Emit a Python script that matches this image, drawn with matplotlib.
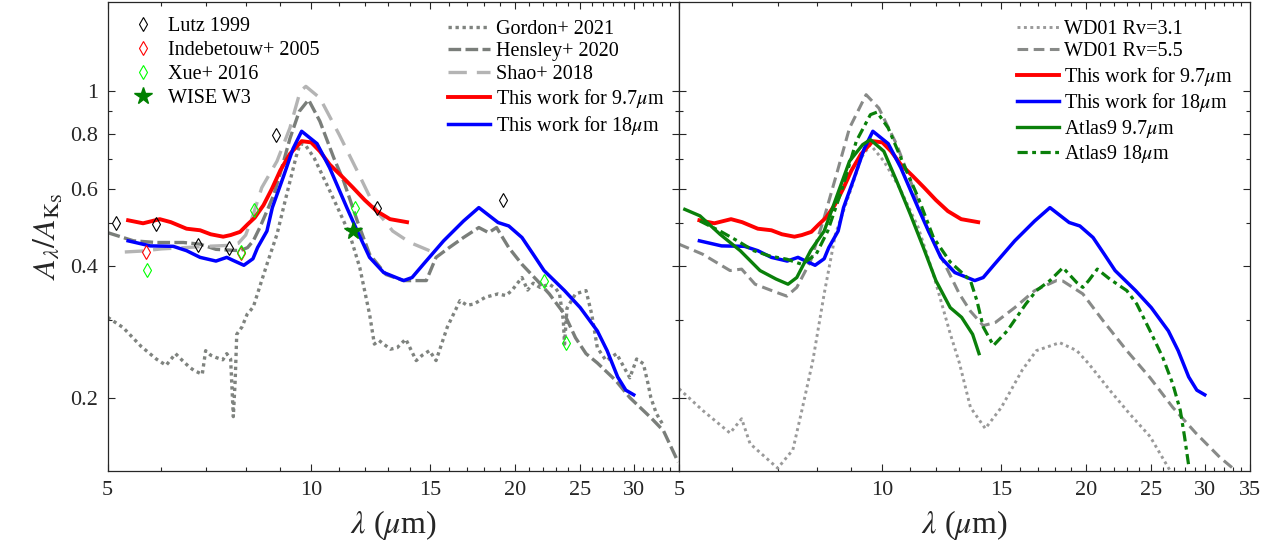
import matplotlib.pyplot as plt
from matplotlib.ticker import FixedLocator, FixedFormatter, NullFormatter

plt.rcParams['font.family'] = ['Liberation Serif', 'DejaVu Serif']
plt.rcParams['mathtext.fontset'] = 'stix'

# ---- data ----
# This work, 9.7 um feature
red_lam = [5.36, 5.64, 5.97, 6.2, 6.54, 6.85, 7.1, 7.41, 7.6, 7.85, 8.05, 8.25, 8.5, 8.75,
           9.0, 9.3, 9.68, 10.0, 10.3, 10.65, 11.1, 11.53, 12.0, 12.5, 13.08, 13.86]
red_A = [0.508, 0.500, 0.511, 0.503, 0.486, 0.482, 0.472, 0.466, 0.470, 0.478, 0.497, 0.515,
         0.55, 0.60, 0.66, 0.72, 0.770, 0.765, 0.73, 0.681, 0.64, 0.603, 0.565, 0.533, 0.511, 0.503]

# This work, 18 um feature
blue_lam = [5.36, 5.78, 6.25, 6.54, 6.85, 7.23, 7.5, 7.65, 7.95, 8.2, 8.33, 8.6, 8.76, 9.1,
            9.4, 9.68, 10.2, 10.65, 11.29, 11.7, 12.2, 12.8, 13.7, 14.1, 14.65, 15.7, 16.8,
            17.7, 18.5, 18.9, 19.6, 20.5, 21.3, 22.1, 23.7, 25.0, 26.5, 27.4, 28.4, 29.2, 30.0]
blue_A = [0.456, 0.444, 0.443, 0.433, 0.418, 0.410, 0.418, 0.412, 0.401, 0.415, 0.44, 0.48,
          0.543, 0.64, 0.74, 0.811, 0.76, 0.669, 0.543, 0.48, 0.418, 0.386, 0.37, 0.376, 0.403,
          0.456, 0.506, 0.543, 0.515, 0.502, 0.493, 0.464, 0.425, 0.39, 0.351, 0.321, 0.284,
          0.256, 0.223, 0.208, 0.203]

# Gordon+ 2021
gor_lam = [5.0, 5.27, 5.6, 5.9, 6.1, 6.3, 6.45, 6.6, 6.7, 6.9, 6.98, 7.1, 7.23, 7.4, 7.5, 7.6,
           7.67, 7.72, 7.76, 7.9, 8.04, 8.21, 8.4, 8.6, 8.9, 9.2, 9.5, 9.63, 9.8, 10.1, 10.6,
           11.0, 11.4, 11.8, 12.0, 12.2, 12.4, 12.6, 12.8, 13.1, 13.4, 13.8, 14.3, 14.6, 14.96,
           15.3, 15.9, 16.6, 17.0, 17.4, 18.1, 18.9, 19.4, 19.8, 20.5, 20.9, 21.3, 21.8, 22.5,
           23.0, 23.3, 23.6, 23.7, 23.9, 24.6, 25.5, 26.0, 26.5, 27.3, 28.3, 29.0, 29.6, 30.3,
           31.0, 31.5, 31.8, 32.4, 33.1]
gor_A = [0.305, 0.289, 0.262, 0.245, 0.237, 0.252, 0.243, 0.235, 0.231, 0.226, 0.256, 0.25,
         0.247, 0.244, 0.252, 0.245, 0.181, 0.22, 0.279, 0.29, 0.31, 0.322, 0.36, 0.403, 0.472,
         0.582, 0.71, 0.76, 0.755, 0.705, 0.603, 0.533, 0.472, 0.396, 0.35, 0.31, 0.265, 0.27,
         0.265, 0.258, 0.26, 0.272, 0.243, 0.25, 0.256, 0.243, 0.29, 0.333, 0.325, 0.327, 0.339,
         0.345, 0.342, 0.351, 0.376, 0.352, 0.365, 0.357, 0.363, 0.355, 0.345, 0.3, 0.265, 0.32,
         0.345, 0.351, 0.31, 0.26, 0.243, 0.252, 0.235, 0.222, 0.245, 0.239, 0.215, 0.2, 0.184,
         0.174]

# Hensley+ 2020
hen_lam = [5.0, 5.46, 5.9, 6.47, 6.85, 7.23, 7.85, 8.05, 8.21, 8.4, 8.6, 8.8, 9.0, 9.3, 9.6,
           9.91, 10.3, 10.8, 11.17, 11.7, 12.2, 12.9, 13.7, 14.8, 15.3, 16.0, 16.8, 17.7, 18.3,
           18.8, 19.6, 20.5, 21.6, 22.5, 23.7, 24.6, 25.5, 26.5, 28.2, 29.6, 31.8, 33.2, 34.9]
hen_A = [0.476, 0.456, 0.452, 0.452, 0.448, 0.436, 0.433, 0.44, 0.456, 0.49, 0.533, 0.58, 0.65,
         0.78, 0.9, 0.957, 0.855, 0.705, 0.624, 0.506, 0.425, 0.382, 0.37, 0.37, 0.418, 0.44,
         0.464, 0.489, 0.476, 0.489, 0.44, 0.403, 0.37, 0.345, 0.31, 0.274, 0.252, 0.24, 0.219,
         0.2, 0.18, 0.168, 0.1425]

# Shao+ 2018
shao_lam = [5.3, 5.6, 6.0, 6.5, 7.0, 7.5, 7.8, 8.0, 8.21, 8.45, 8.9, 9.3, 9.63, 9.82, 10.3,
            11.0, 11.7, 12.5, 13.2, 14.0, 14.96]
shao_A = [0.43, 0.432, 0.437, 0.44, 0.443, 0.445, 0.45, 0.47, 0.524, 0.603, 0.693, 0.825, 1.0,
          1.027, 0.966, 0.797, 0.658, 0.533, 0.48, 0.452, 0.433]

# observed points
lutz_lam = [5.15, 5.89, 6.80, 7.55, 8.87, 12.5, 19.2]
lutz_A = [0.50, 0.499, 0.446, 0.44, 0.794, 0.543, 0.564]
inde_lam = [5.70, 7.88]
inde_A = [0.429, 0.427]
xue_lam = [5.71, 7.88, 8.24, 11.6, 22.1, 23.8]
xue_A = [0.392, 0.43, 0.536, 0.543, 0.37, 0.267]
wise_lam = [11.53]
wise_A = [0.48]

# WD01 models
wd31_lam = [5.0, 5.42, 5.95, 6.19, 6.37, 7.0, 7.37, 7.6, 7.89, 8.2, 8.52, 9.0, 9.3, 9.6, 10.05,
            10.6, 11.3, 11.9, 12.6, 13.0, 13.5, 14.2, 15.0, 16.1, 16.9, 18.3, 19.4, 20.2, 21.7,
            23.2, 24.9, 26.6]
wd31_A = [0.2096, 0.187, 0.166, 0.179, 0.157, 0.138, 0.152, 0.187, 0.243, 0.345, 0.472, 0.603,
          0.705, 0.756, 0.693, 0.603, 0.489, 0.382, 0.28, 0.24, 0.19, 0.17, 0.19, 0.231, 0.256,
          0.267, 0.256, 0.239, 0.208, 0.184, 0.163, 0.137]
wd55_lam = [5.0, 5.42, 5.95, 6.19, 6.48, 6.96, 7.22, 7.47, 7.83, 8.2, 8.58, 8.94, 9.46, 9.88,
            10.5, 11.1, 11.7, 12.4, 13.0, 13.5, 14.1, 14.7, 15.7, 16.8, 18.1, 18.5, 19.8, 21.2,
            23.0, 24.9, 26.9, 29.1, 31.6, 33.2]
wd55_A = [0.448, 0.425, 0.39, 0.393, 0.363, 0.348, 0.341, 0.357, 0.41, 0.515, 0.658, 0.825,
          0.983, 0.916, 0.756, 0.603, 0.48, 0.4, 0.345, 0.315, 0.292, 0.297, 0.321, 0.351, 0.37,
          0.369, 0.345, 0.3, 0.256, 0.222, 0.19, 0.166, 0.146, 0.137]

# Atlas9 models
at97_lam = [5.1, 5.37, 5.75, 6.16, 6.59, 6.96, 7.25, 7.47, 7.83, 8.2, 8.58, 8.94, 9.35, 9.6,
            10.05, 10.5, 11.0, 11.5, 12.0, 12.6, 13.1, 13.6, 13.9]
at97_A = [0.538, 0.52, 0.472, 0.433, 0.39, 0.373, 0.363, 0.376, 0.433, 0.48, 0.582, 0.693,
          0.756, 0.776, 0.73, 0.624, 0.524, 0.44, 0.37, 0.321, 0.305, 0.279, 0.252]
at18_lam = [5.37, 5.75, 6.1, 6.45, 6.81, 7.22, 7.6, 7.98, 8.3, 8.73, 9.15, 9.6, 9.82, 10.2,
            10.7, 11.3, 11.9, 12.6, 13.2, 13.5, 13.8, 14.1, 14.6, 15.3, 16.3, 16.9, 17.7, 18.5,
            19.4, 19.8, 20.2, 20.8, 21.7, 23.0, 23.8, 24.9, 26.0, 26.9, 27.6, 28.0, 28.4]
at18_A = [0.506, 0.48, 0.456, 0.433, 0.421, 0.414, 0.403, 0.425, 0.48, 0.603, 0.77, 0.885,
          0.897, 0.825, 0.693, 0.572, 0.464, 0.408, 0.382, 0.37, 0.333, 0.29, 0.263, 0.284,
          0.327, 0.351, 0.37, 0.396, 0.366, 0.357, 0.37, 0.393, 0.373, 0.351, 0.327, 0.284,
          0.247, 0.215, 0.187, 0.163, 0.14]

xticks = [5, 10, 15, 20, 25, 30, 35]
yticks = [0.2, 0.4, 0.6, 0.8, 1]
yminor = [0.3, 0.5, 0.7, 0.9]

# ---- figure ----
W, H = 1281, 550
fig = plt.figure(figsize=(W / 100, H / 100), dpi=100)
ax1 = fig.add_axes([107.7 / W, 79 / H, 571.3 / W, 469 / H])
ax2 = fig.add_axes([679 / W, 79 / H, 571 / W, 469 / H])


def style(ax, left_labels, xlabels):
    ax.set_xscale('log')
    ax.set_yscale('log')
    ax.set_xlim(5, 35)
    ax.set_ylim(0.136, 1.6)
    ax.xaxis.set_major_locator(FixedLocator(xticks))
    ax.xaxis.set_major_formatter(FixedFormatter(xlabels))
    ax.xaxis.set_minor_locator(FixedLocator([v for v in range(6, 35) if v % 5]))
    ax.xaxis.set_minor_formatter(NullFormatter())
    ax.yaxis.set_major_locator(FixedLocator(yticks))
    ax.yaxis.set_minor_locator(FixedLocator(yminor))
    ax.yaxis.set_minor_formatter(NullFormatter())
    if left_labels:
        ax.yaxis.set_major_formatter(FixedFormatter(['0.2', '0.4', '0.6', '0.8', '1']))
    else:
        ax.yaxis.set_major_formatter(NullFormatter())
    ax.tick_params(which='both', direction='in', top=True, right=True,
                   colors='#262626', labelcolor='#262626', labelsize=16, width=0.8)
    ax.tick_params(which='major', length=5, pad=7)
    ax.tick_params(which='minor', length=3)
    for s in ax.spines.values():
        s.set_color('#262626')
        s.set_linewidth(0.9)
    ax.set_xlabel(r'$\lambda$ ($\mu$m)', fontsize=23, color='#262626', labelpad=6)


style(ax1, True, ['5', '10', '15', '20', '25', '30', ''])
style(ax2, False, ['5', '10', '15', '20', '25', '30', '35'])
ax1.set_ylabel(r'$A_\lambda/A_{\mathrm{K}_{\mathrm{S}}}$', fontsize=23, color='#262626', labelpad=4)

# left panel
l_gor, = ax1.plot(gor_lam, gor_A, color='#7f837f', lw=2.4, ls=(0, (1, 1.1)), label='Gordon+ 2021')
l_hen, = ax1.plot(hen_lam, hen_A, color='#7a7e7a', lw=2.4, ls=(0, (3.8, 1.3)), label='Hensley+ 2020')
l_shao, = ax1.plot(shao_lam, shao_A, color='#b4b4b4', lw=2.4, ls=(0, (5.5, 3)), label='Shao+ 2018')
l_red, = ax1.plot(red_lam, red_A, color='red', lw=2.8, label=r'This work for 9.7$\mu$m')
l_blue, = ax1.plot(blue_lam, blue_A, color='blue', lw=2.5, label=r'This work for 18$\mu$m')
m_lutz, = ax1.plot(lutz_lam, lutz_A, 'd', mfc='none', mec='black', ms=7, mew=0.8, label='Lutz 1999')
m_inde, = ax1.plot(inde_lam, inde_A, 'd', mfc='none', mec='red', ms=7, mew=0.8, label='Indebetouw+ 2005')
m_xue, = ax1.plot(xue_lam, xue_A, 'd', mfc='none', mec='#00ff00', ms=7, mew=0.8, label='Xue+ 2016')
m_wise, = ax1.plot(wise_lam, wise_A, '*', color='#008000', ms=13, label='WISE W3')

leg_kw = dict(frameon=False, loc='upper left', fontsize=14.5, borderpad=0, borderaxespad=0,
              handletextpad=0.25)
leg1 = ax1.legend(handles=[m_lutz, m_inde, m_xue, m_wise], bbox_to_anchor=(0.027, 0.968),
                  handlelength=2.0, labelspacing=0.24, **leg_kw)
ax1.add_artist(leg1)
ax1.legend(handles=[l_gor, l_hen, l_shao, l_red, l_blue], bbox_to_anchor=(0.596, 0.962),
           handlelength=2.1, labelspacing=0.17, **leg_kw)

# right panel
ax2.plot(wd31_lam, wd31_A, color='#9a9a9a', lw=2.1, ls=(0, (1, 1.2)), label='WD01 Rv=3.1')
ax2.plot(wd55_lam, wd55_A, color='#888a88', lw=2.2, ls=(0, (3.5, 1.8)), label='WD01 Rv=5.5')
ax2.plot(red_lam, red_A, color='red', lw=2.8, label=r'This work for 9.7$\mu$m')
ax2.plot(blue_lam, blue_A, color='blue', lw=2.5, label=r'This work for 18$\mu$m')
ax2.plot(at97_lam, at97_A, color='#0a800a', lw=2.4, label=r'Atlas9 9.7$\mu$m')
ax2.plot(at18_lam, at18_A, color='#0a800a', lw=2.3, ls=(0, (3.2, 1.4, 1.2, 1.4)),
         label=r'Atlas9 18$\mu$m')
ax2.legend(bbox_to_anchor=(0.592, 0.962), handlelength=2.1, labelspacing=0.17, **leg_kw)

fig.savefig('out.png', dpi=100)
